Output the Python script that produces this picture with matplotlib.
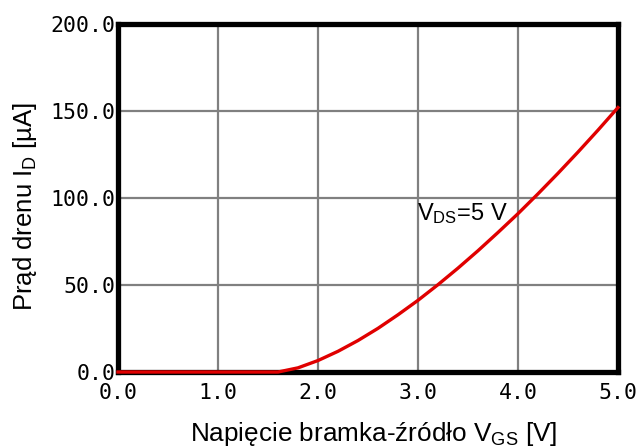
import matplotlib.pyplot as plt

# dane
vgs = [0.0, 0.2, 0.4, 0.6, 0.8, 1.0, 1.2, 1.4, 1.6, 1.8, 2.0, 2.2, 2.4, 2.6,
       2.8, 3.0, 3.2, 3.4, 3.6, 3.8, 4.0, 4.2, 4.4, 4.6, 4.8, 5.0]
i_d = [0.0, 0.0, 0.0, 0.0, 0.0, 0.0, 0.0, 0.0, 0.0, 2.4, 6.6, 11.9, 18.1, 25.1,
       32.9, 41.2, 50.2, 59.7, 69.7, 80.2, 91.0, 102.4, 114.2, 126.4, 139.0, 152.0]
xticks = [0, 1, 2, 3, 4, 5]
yticks = [0, 50, 100, 150, 200]

plt.rcParams['font.family'] = ['Liberation Sans', 'DejaVu Sans']
plt.rcParams['mathtext.fontset'] = 'custom'
plt.rcParams['mathtext.rm'] = 'Liberation Sans'
plt.rcParams['mathtext.it'] = 'Liberation Sans'

fig = plt.figure(figsize=(6.44, 4.48), dpi=100)
ax = fig.add_axes([0.1832, 0.1696, 0.7764, 0.7768])

ax.plot(vgs, i_d, color='#e00000', lw=2.4, zorder=5, clip_on=False)

ax.set_xlim(0, 5)
ax.set_ylim(0, 200)
ax.set_xticks(xticks)
ax.set_yticks(yticks)
ax.set_xticklabels(['%.1f' % v for v in xticks], family='DejaVu Sans Mono', fontsize=15.5)
ax.set_yticklabels(['%.1f' % v for v in yticks], family='DejaVu Sans Mono', fontsize=15.5)
ax.tick_params(length=0, pad=2)
ax.tick_params(axis='x', pad=8)

ax.grid(True, color='#808080', lw=1.6)
ax.set_axisbelow(True)
for s in ax.spines.values():
    s.set_linewidth(3.8)
    s.set_color('black')

ax.set_xlabel(r'Napięcie bramka-źródło V$_{\mathrm{GS}}$ [V]', fontsize=18.8)
ax.set_ylabel(r'Prąd drenu I$_{\mathrm{D}}$ [µA]', fontsize=18.5)
ax.xaxis.set_label_coords(0.511, -0.138)
ax.yaxis.set_label_coords(-0.158, 0.477)
ax.text(2.99, 98, r'V$_{\mathrm{DS}}$=5 V', fontsize=17, va='top', ha='left')

fig.savefig('out.png', dpi=100)
